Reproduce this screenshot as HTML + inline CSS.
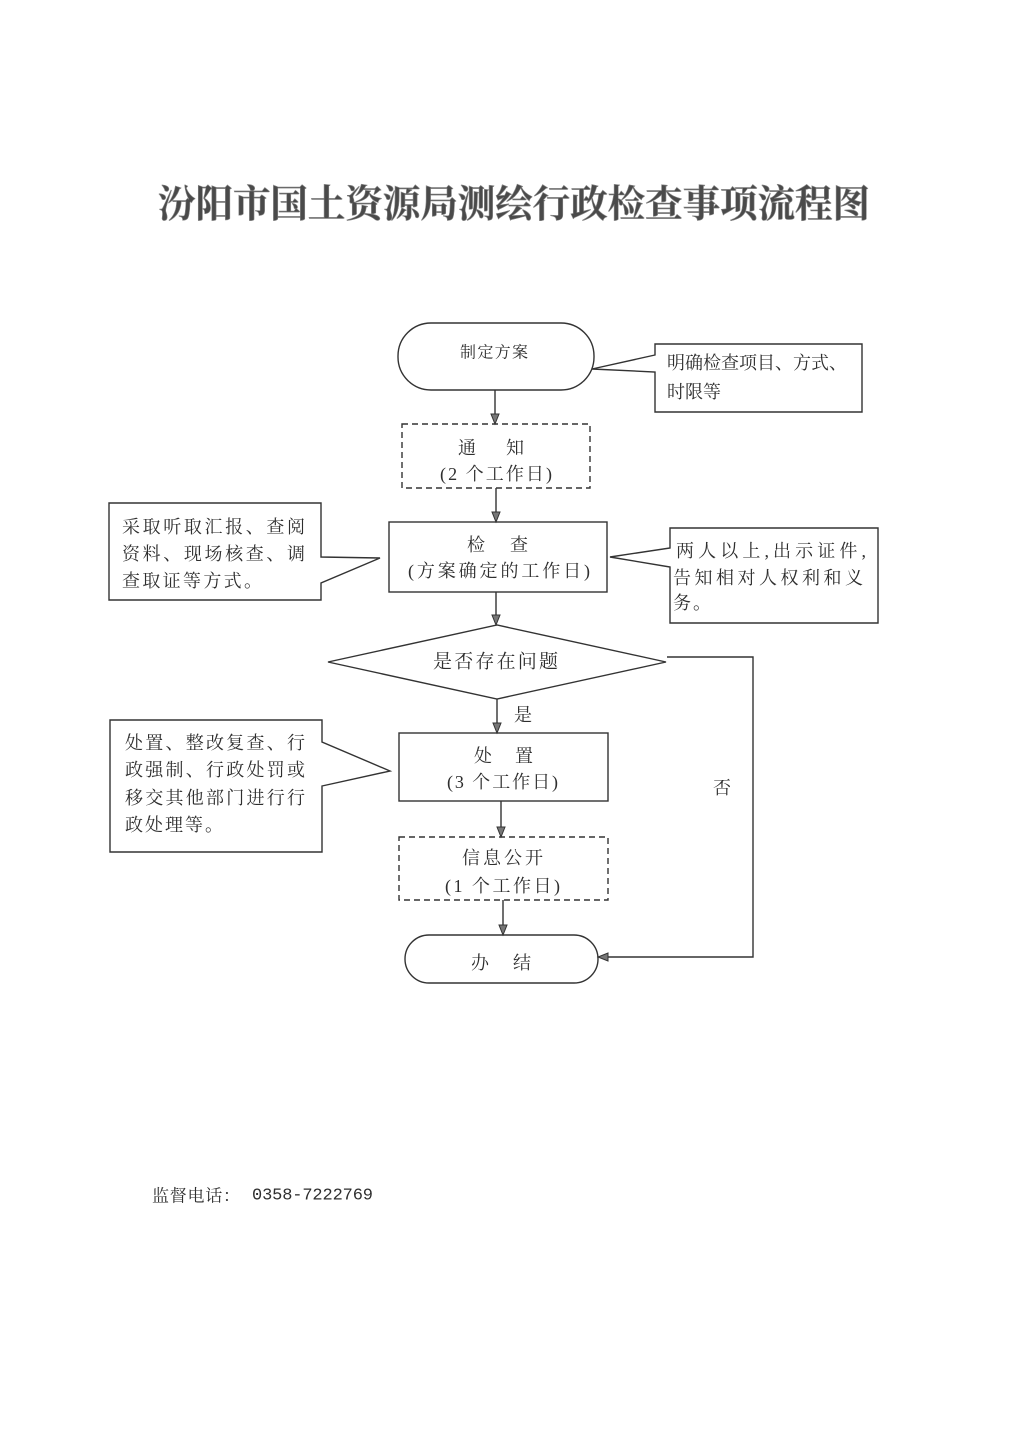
<!DOCTYPE html>
<html>
<head>
<meta charset="utf-8">
<style>
  html,body{margin:0;padding:0;background:#fff;}
  svg{display:block;}
  text{font-family:"Liberation Serif","Noto Serif CJK SC","Noto Sans CJK SC",serif;fill:#2e2e2e;}
  .t{font-size:18px;dominant-baseline:central;}
</style>
</head>
<body>
<svg width="1024" height="1448" viewBox="0 0 1024 1448" xmlns="http://www.w3.org/2000/svg">
  <rect width="1024" height="1448" fill="#fff"/>

  <!-- Title -->
  <text x="158" y="205" font-size="38" font-weight="700" textLength="712" lengthAdjust="spacingAndGlyphs" dominant-baseline="central" style="fill:#4a4a4a;stroke:#888;stroke-width:0.6">汾阳市国土资源局测绘行政检查事项流程图</text>

  <g fill="none" stroke="#333" stroke-width="1.4">
    <!-- start terminal -->
    <rect x="398" y="323" width="196" height="67" rx="33" ry="33" fill="#fff"/>
    <!-- callout 1 -->
    <path d="M655,344 L862,344 L862,412 L655,412 L655,372 L592,369 L655,355 Z" fill="#fff"/>
    <!-- notice dashed -->
    <rect x="402" y="424" width="188" height="64" stroke-dasharray="6,4"/>
    <!-- callout 2 -->
    <path d="M109,503 L321,503 L321,557 L380,558 L321,583 L321,600 L109,600 Z" fill="#fff"/>
    <!-- check box -->
    <rect x="389" y="522" width="218" height="70"/>
    <!-- callout 3 -->
    <path d="M670,528 L878,528 L878,623 L670,623 L670,567 L610,557 L670,548 Z" fill="#fff"/>
    <!-- diamond -->
    <polygon points="328,662 497,625 666,662 497,699"/>
    <!-- callout 4 -->
    <path d="M110,720 L322,720 L322,742 L390,771 L322,786 L322,852 L110,852 Z" fill="#fff"/>
    <!-- dispose box -->
    <rect x="399" y="733" width="209" height="68"/>
    <!-- info dashed -->
    <rect x="399" y="837" width="209" height="63" stroke-dasharray="6,4"/>
    <!-- end terminal -->
    <rect x="405" y="935" width="193" height="48" rx="24" ry="24"/>

    <!-- connectors -->
    <line x1="495" y1="390" x2="495" y2="415"/>
    <line x1="496" y1="488" x2="496" y2="513"/>
    <line x1="496" y1="592" x2="496" y2="616"/>
    <line x1="497" y1="699" x2="497" y2="724"/>
    <line x1="501" y1="801" x2="501" y2="828"/>
    <line x1="503" y1="900" x2="503" y2="926"/>
    <polyline points="667,657 753,657 753,957 607,957"/>
  </g>

  <!-- arrowheads -->
  <g fill="#777" stroke="#333" stroke-width="1">
    <polygon points="491,414 499,414 495,424"/>
    <polygon points="492,512 500,512 496,522"/>
    <polygon points="492,615 500,615 496,625"/>
    <polygon points="493,723 501,723 497,733"/>
    <polygon points="497,827 505,827 501,837"/>
    <polygon points="499,925 507,925 503,935"/>
    <polygon points="608,953 608,961 598,957"/>
  </g>

  <!-- node texts -->
  <text class="t" x="460" y="353" font-size="16" style="font-size:16px" textLength="68" lengthAdjust="spacing">制定方案</text>

  <text class="t" x="467" y="448" text-anchor="middle">通</text>
  <text class="t" x="515" y="448" text-anchor="middle">知</text>
  <text class="t" x="440" y="474" textLength="112" lengthAdjust="spacing">(2 个工作日)</text>

  <text class="t" x="476" y="545" text-anchor="middle">检</text>
  <text class="t" x="519" y="545" text-anchor="middle">查</text>
  <text class="t" x="408" y="571" textLength="182" lengthAdjust="spacing">(方案确定的工作日)</text>

  <text class="t" x="433" y="662" style="font-size:19px" textLength="125" lengthAdjust="spacing">是否存在问题</text>

  <text class="t" x="523" y="715" text-anchor="middle">是</text>
  <text class="t" x="722" y="788" text-anchor="middle">否</text>

  <text class="t" x="483" y="756" text-anchor="middle">处</text>
  <text class="t" x="524" y="756" text-anchor="middle">置</text>
  <text class="t" x="447" y="782" textLength="111" lengthAdjust="spacing">(3 个工作日)</text>

  <text class="t" x="462" y="858" textLength="81" lengthAdjust="spacing">信息公开</text>
  <text class="t" x="445" y="886" textLength="115" lengthAdjust="spacing">(1 个工作日)</text>

  <text class="t" x="480" y="963" text-anchor="middle">办</text>
  <text class="t" x="522" y="963" text-anchor="middle">结</text>

  <!-- callout texts -->
  <text class="t" x="667" y="363" textLength="180" lengthAdjust="spacing">明确检查项目、方式、</text>
  <text class="t" x="667" y="392" textLength="54" lengthAdjust="spacing">时限等</text>

  <text class="t" x="122" y="527" textLength="183" lengthAdjust="spacing">采取听取汇报、查阅</text>
  <text class="t" x="122" y="554" textLength="183" lengthAdjust="spacing">资料、现场核查、调</text>
  <text class="t" x="122" y="581" textLength="140" lengthAdjust="spacing">查取证等方式。</text>

  <text class="t" x="676" y="551" textLength="190" lengthAdjust="spacing">两人以上,出示证件,</text>
  <text class="t" x="673" y="578" textLength="190" lengthAdjust="spacing">告知相对人权利和义</text>
  <text class="t" x="673" y="603" textLength="38" lengthAdjust="spacing">务。</text>

  <text class="t" x="125" y="743" textLength="180" lengthAdjust="spacing">处置、整改复查、行</text>
  <text class="t" x="125" y="770" textLength="180" lengthAdjust="spacing">政强制、行政处罚或</text>
  <text class="t" x="125" y="798" textLength="180" lengthAdjust="spacing">移交其他部门进行行</text>
  <text class="t" x="125" y="825" textLength="98" lengthAdjust="spacing">政处理等。</text>

  <!-- footer -->
  <text class="t" x="152" y="1196" style="font-size:17px" textLength="88" lengthAdjust="spacing">监督电话：</text>
  <text x="252" y="1196" dominant-baseline="central" style="font-family:'Liberation Mono',monospace;font-size:17px" textLength="121" lengthAdjust="spacing">0358-7222769</text>
</svg>
</body>
</html>
